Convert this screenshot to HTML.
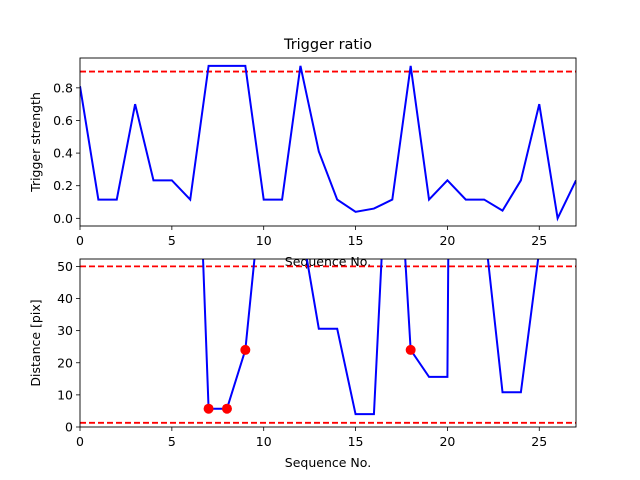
<!DOCTYPE html>
<html><head><meta charset="utf-8"><style>
body{margin:0;background:#fff}
svg{display:block;font-family:"DejaVu Sans","Liberation Sans",sans-serif}
</style></head><body>
<svg id="fig" width="640" height="480" xmlns="http://www.w3.org/2000/svg">
<rect width="640" height="480" fill="#fff"/>
<text x="328" y="49" font-size="14.5" text-anchor="middle">Trigger ratio</text>
<g id="top"></g>
<g id="bot"></g>
</svg>
<script>
const seqTop = [0,1,2,3,4,5,6,7,8,9,10,11,12,13,14,15,16,17,18,19,20,21,22,23,24,25,26,27];
const triggerStrength = [0.81,0.115,0.115,0.70,0.233,0.233,0.115,0.935,0.935,0.935,0.115,0.115,0.935,0.41,0.115,0.04,0.06,0.115,0.935,0.115,0.233,0.115,0.115,0.047,0.233,0.70,0.0,0.233];
const triggerThreshold = 0.9;
const topTicks = [0.0,0.2,0.4,0.6,0.8];
const xTicks = [0,5,10,15,20,25];
const distance = [150,150,150,150,150,150,160,5.7,5.7,24,81,150,64,30.6,30.6,4,4,120,24,15.6,15.6,800,63,10.8,10.8,55,150,150];
const markedSeq = [7,8,9,18];
const markedDist = [5.7,5.7,24,24];
const distThresholds = [50,1.3];
const botTicks = [0,10,20,30,40,50];

const NS="http://www.w3.org/2000/svg";
function mk(p,tag,attrs){const e=document.createElementNS(NS,tag);for(const k in attrs)e.setAttribute(k,attrs[k]);p.appendChild(e);return e;}
const X0=80,X1=576,XMIN=0,XMAX=27;
const sx=v=>X0+(v-XMIN)/(XMAX-XMIN)*(X1-X0);

function axes(g,top,bot,ymin,ymax,yticks,fmt,ylabel,clipId){
  const sy=v=>bot-(v-ymin)/(ymax-ymin)*(bot-top);
  const defs=mk(g,'defs',{});
  const cp=mk(defs,'clipPath',{id:clipId});
  mk(cp,'rect',{x:X0,y:top,width:X1-X0,height:bot-top});
  yticks.forEach(t=>{
    const y=sy(t);
    const l=mk(g,'line',{x1:X0-4,x2:X0,y1:y,y2:y,stroke:'#000','stroke-width':0.8});
    
    
    const tx=mk(g,'text',{x:X0-7,y:y+4.5,'font-size':12.5,'text-anchor':'end'});
    tx.textContent=fmt(t);
    
    
  });
  xTicks.forEach(t=>{
    const x=sx(t);
    const l=mk(g,'line',{x1:x,x2:x,y1:bot,y2:bot+4,stroke:'#000','stroke-width':0.8});
    
    
    const tx=mk(g,'text',{x:x,y:bot+19,'font-size':12.5,'text-anchor':'middle'});
    tx.textContent=String(t);
    
    
  });
  const yl=mk(g,'text',{transform:`translate(40,${(top+bot)/2}) rotate(-90)`,'font-size':12.5,'text-anchor':'middle'});
  yl.textContent=ylabel;
  
  
  const xl=mk(g,'text',{x:(X0+X1)/2,y:bot+40,'font-size':12.5,'text-anchor':'middle'});
  xl.textContent='Sequence No.';
  
  
  return sy;
}
function frame(g,top,bot){
  const r=mk(g,'rect',{x:X0,y:top,width:X1-X0,height:bot-top,fill:'none',stroke:'#000','stroke-width':0.9});
  
  
}

// top chart
const gt=document.getElementById('top');
const T0=58,T1=226;
const syT=axes(gt,T0,T1,-0.047,0.983,topTicks,v=>v.toFixed(1),'Trigger strength','clipT');
const hl=mk(gt,'line',{x1:X0,x2:X1,y1:syT(triggerThreshold),y2:syT(triggerThreshold),stroke:'#ff0000','stroke-width':1.8,'stroke-dasharray':'6,3'});


const pt=mk(gt,'polyline',{points:seqTop.map((s,i)=>sx(s)+','+syT(triggerStrength[i])).join(' '),fill:'none',stroke:'#0000ff','stroke-width':2,'clip-path':'url(#clipT)'});


frame(gt,T0,T1);

// bottom chart
const gb=document.getElementById('bot');
const B0=259,B1=427;
const syB=axes(gb,B0,B1,0,52.3,botTicks,v=>String(v),'Distance [pix]','clipB');
distThresholds.forEach(v=>{
  const l=mk(gb,'line',{x1:X0,x2:X1,y1:syB(v),y2:syB(v),stroke:'#ff0000','stroke-width':1.8,'stroke-dasharray':'6,3'});
  
  
});
const pb=mk(gb,'polyline',{points:seqTop.map((s,i)=>sx(s)+','+syB(distance[i])).join(' '),fill:'none',stroke:'#0000ff','stroke-width':2,'clip-path':'url(#clipB)'});


markedSeq.forEach((s,i)=>{
  const c=mk(gb,'circle',{cx:sx(s),cy:syB(markedDist[i]),r:5,fill:'#ff0000'});
  
  
});
frame(gb,B0,B1);
</script>
</body></html>
